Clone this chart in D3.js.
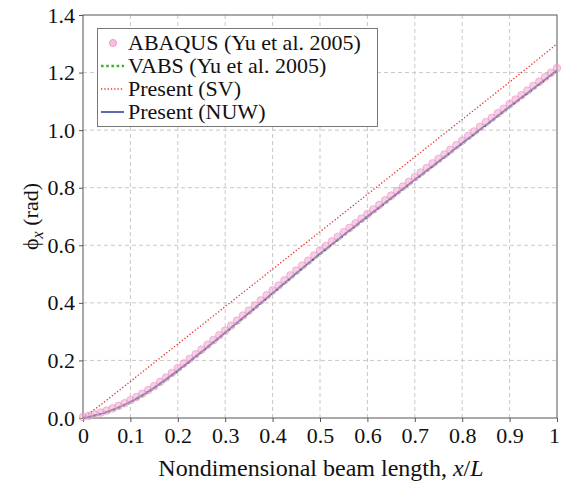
<!DOCTYPE html>
<html lang="en">
<head>
<meta charset="UTF-8">
<title>phi_x vs x/L</title>
<script src="https://d3js.org/d3.v7.min.js"></script>
<style>
    body { margin: 0; background: #fff; }
    svg text { font-family: "Liberation Serif", "Times New Roman", Tinos, "DejaVu Serif", serif !important; fill: #111; }
    .grid line { stroke: #c8c8c8; stroke-width: 1px; stroke-dasharray: 4,3; }
    .axis path, .axis line { stroke: #555; }
</style>
</head>
<body>
<svg></svg>
<script>
    // ABAQUS points (Yu et al. 2005), x/L step 0.0125
    var abaqusX = d3.range(0, 81).map(function (i) { return i / 80; });
    var abaqusPhi = [
        0, 0.0043, 0.0095, 0.0154, 0.0223, 0.030, 0.0385, 0.0478,
        0.058, 0.069, 0.081, 0.0937, 0.107, 0.122, 0.137, 0.153,
        0.170, 0.186, 0.202, 0.218, 0.234, 0.251, 0.267, 0.284,
        0.300, 0.3175, 0.335, 0.3525, 0.370, 0.3875, 0.405, 0.4225,
        0.440, 0.457, 0.475, 0.492, 0.509, 0.526, 0.543, 0.561,
        0.578, 0.594, 0.610, 0.626, 0.642, 0.657, 0.673, 0.689,
        0.705, 0.721, 0.737, 0.753, 0.769, 0.785, 0.801, 0.817,
        0.833, 0.849, 0.865, 0.881, 0.897, 0.912, 0.928, 0.944,
        0.960, 0.976, 0.992, 1.008, 1.024, 1.039, 1.055, 1.071,
        1.087, 1.103, 1.118, 1.134, 1.150, 1.165, 1.181, 1.196,
        1.212
    ];
    // line series, x/L step 0.05
    var lineX = [0, 0.05, 0.1, 0.15, 0.2, 0.25, 0.3, 0.35, 0.4, 0.45, 0.5,
                 0.55, 0.6, 0.65, 0.7, 0.75, 0.8, 0.85, 0.9, 0.95, 1.0];
    var vabsPhi = [0, 0.020, 0.055, 0.104, 0.164, 0.229, 0.296, 0.364, 0.433, 0.502, 0.570,
                   0.635, 0.699, 0.763, 0.827, 0.890, 0.954, 1.017, 1.081, 1.143, 1.207];
    var nuwPhi = [0, 0.021, 0.056, 0.105, 0.165, 0.230, 0.297, 0.365, 0.434, 0.503, 0.571,
                  0.636, 0.700, 0.764, 0.828, 0.891, 0.955, 1.018, 1.082, 1.144, 1.208];
    var svPhi = [0, 0.062, 0.127, 0.192, 0.257, 0.322, 0.387, 0.452, 0.517, 0.582, 0.647,
                 0.712, 0.777, 0.842, 0.907, 0.972, 1.037, 1.102, 1.167, 1.233, 1.300];

    var xTicks = [0, 0.1, 0.2, 0.3, 0.4, 0.5, 0.6, 0.7, 0.8, 0.9, 1];
    var yTicks = [0, 0.2, 0.4, 0.6, 0.8, 1.0, 1.2, 1.4];
    var legendLabels = ["ABAQUS (Yu et al. 2005)", "VABS (Yu et al. 2005)", "Present (SV)", "Present (NUW)"];

    var W = 561, H = 483;
    var pLeft = 83, pRight = 557, pTop = 15, pBottom = 418;
    var serif = "'Liberation Serif', 'Times New Roman', Tinos, 'DejaVu Serif', serif";

    var svg = d3.select("svg").attr("width", W).attr("height", H);

    var x = d3.scaleLinear().domain([0, 1]).range([pLeft, pRight]);
    var y = d3.scaleLinear().domain([0, 1.4]).range([pBottom, pTop]);

    // grid
    svg.append("g").classed("grid", true)
        .selectAll("line").data(xTicks.slice(1, -1)).enter().append("line")
        .attr("x1", function (d) { return x(d); }).attr("x2", function (d) { return x(d); })
        .attr("y1", pTop).attr("y2", pBottom);
    svg.append("g").classed("grid", true)
        .selectAll("line").data(yTicks.slice(1, -1)).enter().append("line")
        .attr("y1", function (d) { return y(d); }).attr("y2", function (d) { return y(d); })
        .attr("x1", pLeft).attr("x2", pRight);

    // axes
    var xAxis = d3.axisBottom(x).tickValues(xTicks).tickSize(4).tickPadding(5)
        .tickFormat(function (d) { return d === 0 || d === 1 ? d3.format("d")(d) : d3.format(".1f")(d); });
    var yAxis = d3.axisLeft(y).tickValues(yTicks).tickSize(4).tickPadding(4).tickFormat(d3.format(".1f"));

    var gx = svg.append("g").classed("axis", true)
        .attr("transform", "translate(0," + pBottom + ")").call(xAxis);
    var gy = svg.append("g").classed("axis", true)
        .attr("transform", "translate(" + pLeft + ",0)").call(yAxis);
    gx.attr("font-family", serif).attr("font-size", 22);
    gy.attr("font-family", serif).attr("font-size", 22);
    gx.select(".domain").remove();
    gy.select(".domain").remove();
    svg.selectAll(".axis text").attr("fill", "#111");
    // keep the last x label inside the page
    gx.selectAll(".tick text").filter(function (d) { return d === 1; }).attr("dx", -3);

    // frame
    svg.append("rect")
        .attr("x", pLeft).attr("y", pTop).attr("width", pRight - pLeft).attr("height", pBottom - pTop)
        .style("fill", "none").style("stroke", "#555").style("stroke-width", 1);

    var line = d3.line().curve(d3.curveMonotoneX)
        .x(function (d) { return x(d[0]); })
        .y(function (d) { return y(d[1]); });

    // Present (SV)
    svg.append("path").datum(d3.zip(lineX, svPhi)).attr("d", line)
        .style("fill", "none").style("stroke", "#e8322c").style("stroke-width", 1.3)
        .style("stroke-dasharray", "1.3,2");
    // VABS
    svg.append("path").datum(d3.zip(lineX, vabsPhi)).attr("d", line)
        .style("fill", "none").style("stroke", "#3cb521").style("stroke-width", 2.6)
        .style("stroke-dasharray", "2.6,2.6");
    // NUW
    svg.append("path").datum(d3.zip(lineX, nuwPhi)).attr("d", line)
        .style("fill", "none").style("stroke", "#3447a8").style("stroke-width", 1.6);
    // ABAQUS markers
    svg.append("g").selectAll("circle").data(d3.zip(abaqusX, abaqusPhi)).enter().append("circle")
        .attr("cx", function (d) { return x(d[0]); })
        .attr("cy", function (d) { return y(d[1]) - 1; })
        .attr("r", 3.8)
        .style("fill", "#f2a6cf").style("fill-opacity", 0.55)
        .style("stroke", "#e58ec0").style("stroke-opacity", 0.7).style("stroke-width", 0.8);

    // legend
    var lg = svg.append("g").attr("font-family", serif);
    lg.append("rect").attr("x", 97.5).attr("y", 28.5).attr("width", 280).attr("height", 98)
        .style("fill", "#fff").style("stroke", "#777").style("stroke-width", 1);
    var rowY = [43, 66, 89, 112];
    var styles = [null,
        {c: "#3cb521", w: 2.6, d: "2.6,2.6"},
        {c: "#e8322c", w: 1.3, d: "1.3,2"},
        {c: "#3447a8", w: 1.6, d: null}];
    legendLabels.forEach(function (lab, i) {
        var yy = rowY[i];
        if (i === 0) {
            lg.append("circle").attr("cx", 113).attr("cy", yy).attr("r", 3.6)
                .style("fill", "#f2a6cf").style("fill-opacity", 0.7)
                .style("stroke", "#e58ec0").style("stroke-width", 0.8);
        } else {
            var st = styles[i];
            lg.append("line").attr("x1", 101).attr("x2", 124).attr("y1", yy).attr("y2", yy)
                .style("stroke", st.c).style("stroke-width", st.w)
                .style("stroke-dasharray", st.d);
        }
        lg.append("text").attr("x", 128).attr("y", yy + 7)
            .attr("font-size", 22).text(lab);
    });

    // axis labels
    var xl = svg.append("text").attr("x", (pLeft + pRight) / 2 + 1).attr("y", 476)
        .attr("text-anchor", "middle").attr("font-family", serif).attr("font-size", 24);
    xl.append("tspan").text("Nondimensional beam length, ");
    xl.append("tspan").style("font-style", "italic").text("x");
    xl.append("tspan").text("/");
    xl.append("tspan").style("font-style", "italic").text("L");

    var yl = svg.append("text")
        .attr("transform", "translate(38," + ((pTop + pBottom) / 2) + ") rotate(-90)")
        .attr("text-anchor", "middle").attr("font-family", serif).attr("font-size", 22);
    yl.append("tspan").text("ϕ");
    yl.append("tspan").style("font-style", "italic").attr("font-size", 16).attr("dy", 5).text("x");
    yl.append("tspan").attr("dy", -5).text(" (rad)");
</script>
</body>
</html>
